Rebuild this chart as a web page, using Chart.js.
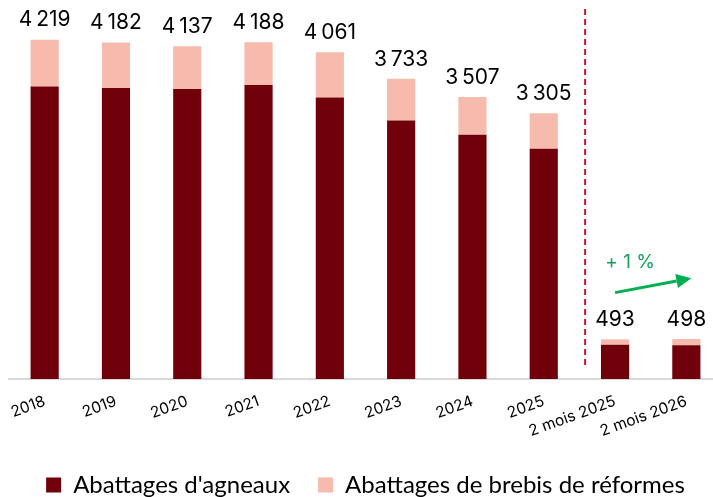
<!DOCTYPE html>
<html>
<head>
<meta charset="utf-8">
<script src="https://cdn.jsdelivr.net/npm/chart.js@4.4.1/dist/chart.umd.min.js"></script>
<style>
  html, body { margin: 0; padding: 0; background: #fff; overflow: hidden; }
</style>
</head>
<body>
<canvas id="chart" width="722" height="497"></canvas>
<script>
  // Data (milliers de têtes)
  const categories = ["2018", "2019", "2020", "2021", "2022", "2023", "2024", "2025", "2 mois 2025", "2 mois 2026"];
  const totals = [4219, 4182, 4137, 4188, 4061, 3733, 3507, 3305, 493, 498];
  const agneaux = [3638, 3618, 3605, 3655, 3501, 3215, 3037, 2862, 427, 419];
  const brebis = [581, 564, 532, 533, 560, 518, 470, 443, 66, 79];
  const trendLabel = "+ 1 %";

  function fmt(v) {
    return String(v).replace(/\B(?=(\d{3})+(?!\d))/g, "\u2009");
  }

  const extras = {
    id: "extras",
    afterDatasetsDraw(chart) {
      const { ctx, scales: { x, y }, chartArea } = chart;
      ctx.save();

      // totals above the bars
      ctx.font = "21px Inter";
      ctx.fillStyle = "#000";
      ctx.textAlign = "center";
      ctx.textBaseline = "bottom";
      totals.forEach(function (t, i) {
        ctx.fillText(fmt(t), x.getPixelForValue(i), y.getPixelForValue(t) - 9);
      });

      // dashed separator between years and 2-month figures
      const step = x.getPixelForValue(8) - x.getPixelForValue(7);
      const sx = x.getPixelForValue(7) + step * 0.58;
      ctx.strokeStyle = "#d0142c";
      ctx.lineWidth = 2;
      ctx.setLineDash([6, 4]);
      ctx.beginPath();
      ctx.moveTo(sx, chartArea.top);
      ctx.lineTo(sx, chartArea.bottom - 10);
      ctx.stroke();
      ctx.setLineDash([]);

      // green trend arrow
      const x0 = x.getPixelForValue(8), y0 = y.getPixelForValue(1074);
      const x1 = x.getPixelForValue(9) + 5, y1 = y.getPixelForValue(1253);
      const ang = Math.atan2(y1 - y0, x1 - x0);
      const head = 15, half = 7;
      const bx = x1 - head * Math.cos(ang), by = y1 - head * Math.sin(ang);
      ctx.strokeStyle = "#00b050";
      ctx.fillStyle = "#00b050";
      ctx.lineWidth = 3;
      ctx.beginPath();
      ctx.moveTo(x0, y0);
      ctx.lineTo(bx, by);
      ctx.stroke();
      ctx.beginPath();
      ctx.moveTo(x1, y1);
      ctx.lineTo(bx + half * Math.sin(ang), by - half * Math.cos(ang));
      ctx.lineTo(bx - half * Math.sin(ang), by + half * Math.cos(ang));
      ctx.closePath();
      ctx.fill();

      ctx.font = "19px Inter";
      ctx.fillStyle = "#17a05e";
      ctx.textBaseline = "middle";
      ctx.fillText(trendLabel, x0 + 15, y.getPixelForValue(1456));

      ctx.restore();
    }
  };

  const ctx = document.getElementById("chart").getContext("2d");
  new Chart(ctx, {
    type: "bar",
    data: {
      labels: categories,
      datasets: [
        {
          label: "Abattages d'agneaux",
          data: agneaux,
          backgroundColor: "#700009",
          stack: "s"
        },
        {
          label: "Abattages de brebis de réformes",
          data: brebis,
          backgroundColor: "#f6bbad",
          stack: "s"
        }
      ]
    },
    options: {
      responsive: false,
      animation: false,
      layout: { padding: { left: 9, right: 0, top: 9, bottom: -10 } },
      datasets: {
        bar: { categoryPercentage: 1, barPercentage: 0.395 }
      },
      scales: {
        x: {
          stacked: true,
          grid: { display: false },
          border: { color: "#d9d9d9", width: 2 },
          ticks: {
            minRotation: 20,
            maxRotation: 20,
            padding: 5,
            color: "#000",
            font: { family: "Inter", size: 15.5 }
          },
          afterFit(scale) { scale.height = 66; }
        },
        y: {
          stacked: true,
          display: false,
          min: 0,
          max: 4600
        }
      },
      plugins: {
        tooltip: { enabled: false },
        legend: {
          position: "bottom",
          labels: {
            boxWidth: 15,
            boxHeight: 15,
            padding: 28,
            color: "#000",
            font: { family: "Lato", size: 24 }
          }
        }
      }
    },
    plugins: [extras]
  });
</script>
</body>
</html>
